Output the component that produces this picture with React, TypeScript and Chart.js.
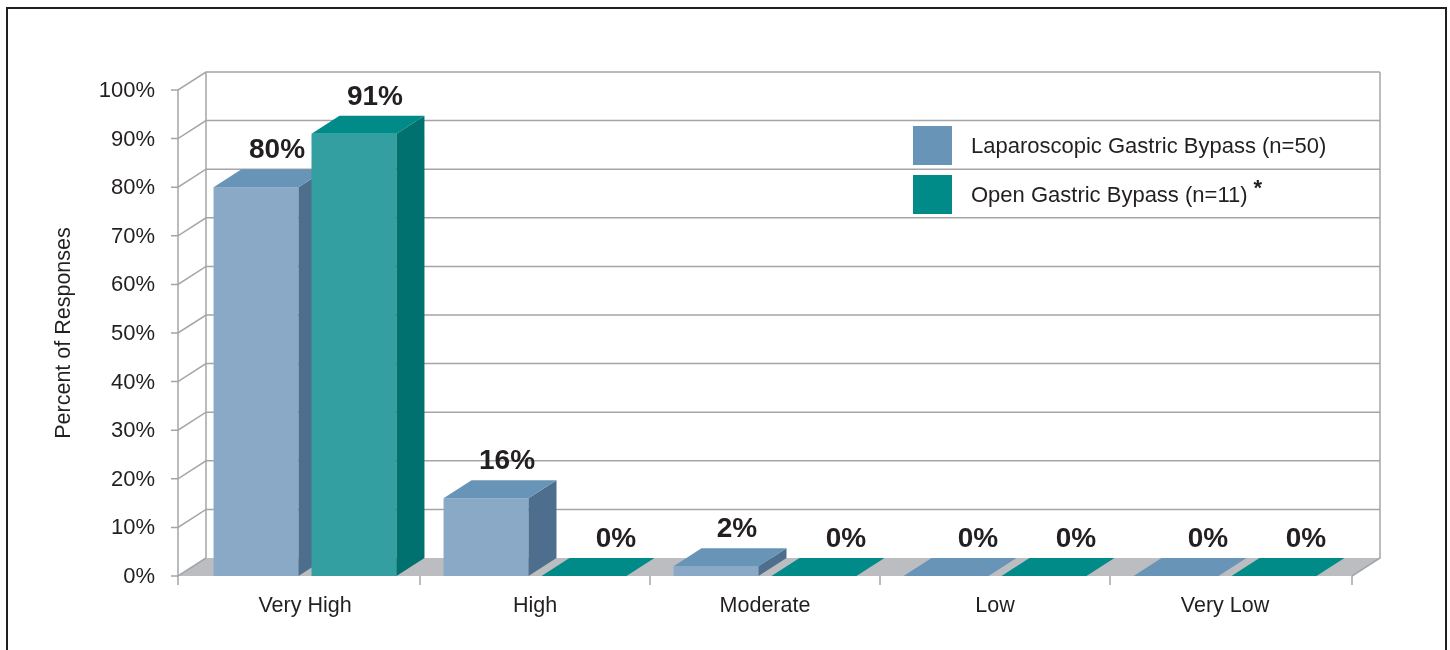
import React, { useEffect, useRef } from "react";
import { Chart, registerables } from "chart.js";

Chart.register(...registerables);

const categories = ["Very High", "High", "Moderate", "Low", "Very Low"];
const lapValues = [80, 16, 2, 0, 0];
const openValues = [91, 0, 0, 0, 0];
const seriesNames = ["Laparoscopic Gastric Bypass (n=50)", "Open Gastric Bypass (n=11)"];
const yAxisTitle = "Percent of Responses";
const footnoteMark = "*";

const DX = 28;
const DY = -18;
const TEXT = "#231f20";
const GRID = "#a3a5a8";
const FLOOR = "#bcbdc0";
const FONT = "'Liberation Sans', Arial, sans-serif";

const palettes = [
  { front: "#8aa9c6", top: "#6894b8", side: "#4d6f8d", legend: "#6894b8" },
  { front: "#339fa1", top: "#008a88", side: "#00716e", legend: "#008b89" },
];

const threeD = {
  id: "threeD",
  beforeDraw(chart: any) {
    const ctx = chart.ctx;
    ctx.save();
    ctx.fillStyle = "#ffffff";
    ctx.fillRect(0, 0, chart.width, chart.height);
    ctx.strokeStyle = TEXT;
    ctx.lineWidth = 2;
    ctx.strokeRect(7, 8, 1439, 700);
    ctx.restore();
  },
  beforeDatasetsDraw(chart: any) {
    const { ctx, chartArea } = chart;
    const xs = chart.scales.x;
    const ys = chart.scales.y;
    const y0 = ys.getPixelForValue(0);
    const yTop = ys.getPixelForValue(100);
    const L = chartArea.left - 12;
    const R = chartArea.right + 12;
    ctx.save();
    // floor
    ctx.fillStyle = FLOOR;
    ctx.beginPath();
    ctx.moveTo(L, y0);
    ctx.lineTo(R, y0);
    ctx.lineTo(R + DX, y0 + DY);
    ctx.lineTo(L + DX, y0 + DY);
    ctx.closePath();
    ctx.fill();
    // grid
    ctx.strokeStyle = GRID;
    ctx.lineWidth = 1.5;
    ys.ticks.forEach((t: any) => {
      const yy = ys.getPixelForValue(t.value);
      ctx.beginPath();
      ctx.moveTo(L - 7, yy);
      ctx.lineTo(L, yy);
      ctx.lineTo(L + DX, yy + DY);
      if (t.value > 0) ctx.lineTo(R + DX, yy + DY);
      ctx.stroke();
    });
    ctx.beginPath();
    ctx.moveTo(L, yTop);
    ctx.lineTo(L, y0);
    ctx.moveTo(L + DX, yTop + DY);
    ctx.lineTo(L + DX, y0 + DY);
    ctx.moveTo(R + DX, yTop + DY);
    ctx.lineTo(R + DX, y0 + DY);
    ctx.lineTo(R, y0);
    ctx.stroke();
    // x ticks
    const half = (xs.getPixelForValue(1) - xs.getPixelForValue(0)) / 2;
    const tickXs = [L];
    for (let i = 1; i < categories.length; i++) tickXs.push(xs.getPixelForValue(i) - half);
    tickXs.push(R);
    tickXs.forEach((tx) => {
      ctx.beginPath();
      ctx.moveTo(tx, y0);
      ctx.lineTo(tx, y0 + 9);
      ctx.stroke();
    });
    // y tick labels
    ctx.fillStyle = TEXT;
    ctx.font = `22px ${FONT}`;
    ctx.textAlign = "right";
    ctx.textBaseline = "middle";
    ys.ticks.forEach((t: any) => {
      ctx.fillText(`${t.value}%`, L - 23, ys.getPixelForValue(t.value) + 1);
    });
    // category labels
    ctx.font = `21.5px ${FONT}`;
    ctx.textAlign = "center";
    categories.forEach((c, i) => {
      ctx.fillText(c, xs.getPixelForValue(i), y0 + 30);
    });
    // axis title
    ctx.save();
    ctx.translate(64, (y0 + yTop) / 2);
    ctx.rotate(-Math.PI / 2);
    ctx.fillText(yAxisTitle, 0, 0);
    ctx.restore();
    // bars
    const metas = [chart.getDatasetMeta(0), chart.getDatasetMeta(1)];
    for (let i = 0; i < categories.length; i++) {
      metas.forEach((meta: any, d: number) => {
        const el = meta.data[i];
        const p = el.getProps(["x", "y", "base", "width"], true);
        const pal = palettes[d];
        const left = p.x - p.width / 2;
        const right = p.x + p.width / 2;
        const top = Math.min(p.y, p.base);
        const base = p.base;
        if (base - top > 0.5) {
          ctx.fillStyle = pal.front;
          ctx.fillRect(left, top, p.width, base - top);
          ctx.fillStyle = pal.side;
          ctx.beginPath();
          ctx.moveTo(right, top);
          ctx.lineTo(right + DX, top + DY);
          ctx.lineTo(right + DX, base + DY);
          ctx.lineTo(right, base);
          ctx.closePath();
          ctx.fill();
        }
        ctx.fillStyle = pal.top;
        ctx.beginPath();
        ctx.moveTo(left, top);
        ctx.lineTo(right, top);
        ctx.lineTo(right + DX, top + DY);
        ctx.lineTo(left + DX, top + DY);
        ctx.closePath();
        ctx.fill();
      });
    }
    // value labels
    ctx.fillStyle = TEXT;
    ctx.font = `bold 28px ${FONT}`;
    ctx.textAlign = "center";
    ctx.textBaseline = "alphabetic";
    metas.forEach((meta: any, d: number) => {
      const vals = d === 0 ? lapValues : openValues;
      meta.data.forEach((el: any, i: number) => {
        const p = el.getProps(["x", "y"], true);
        const v = vals[i];
        const off = v > 0 ? 21 : 32;
        ctx.fillText(`${v}%`, p.x + off, p.y + DY - 11);
      });
    });
    // legend
    ctx.font = `22px ${FONT}`;
    ctx.textAlign = "left";
    ctx.textBaseline = "middle";
    seriesNames.forEach((name, d) => {
      const ly = 126 + d * 49;
      ctx.fillStyle = palettes[d].legend;
      ctx.fillRect(913, ly, 39, 39);
      ctx.fillStyle = TEXT;
      ctx.fillText(name, 971, ly + 21);
      if (d === 1) {
        const w = ctx.measureText(name).width;
        ctx.font = `bold 22px ${FONT}`;
        ctx.fillText(footnoteMark, 971 + w + 6, ly + 14);
        ctx.font = `22px ${FONT}`;
      }
    });
    ctx.restore();
    return false;
  },
};

export default function App() {
  const ref = useRef<HTMLCanvasElement | null>(null);
  useEffect(() => {
    if (!ref.current) return;
    const chart = new Chart(ref.current, {
      type: "bar",
      data: {
        labels: categories,
        datasets: [
          { label: seriesNames[0], data: lapValues, backgroundColor: palettes[0].front },
          { label: seriesNames[1], data: openValues, backgroundColor: palettes[1].front },
        ],
      },
      options: {
        responsive: false,
        animation: false,
        devicePixelRatio: 1,
        layout: { padding: { left: 190, right: 110, top: 90, bottom: 74 } },
        datasets: { bar: { categoryPercentage: 0.852, barPercentage: 0.867 } },
        scales: {
          x: { display: false },
          y: { display: false, min: 0, max: 100, ticks: { stepSize: 10 } },
        },
        plugins: { legend: { display: false }, tooltip: { enabled: false } },
      },
      plugins: [threeD],
    } as any);
    return () => chart.destroy();
  }, []);
  return (
    <div style={{ position: "absolute", left: 0, top: 0, width: 1450, height: 650 }}>
      <canvas ref={ref} width={1450} height={650} style={{ width: 1450, height: 650 }} />
    </div>
  );
}
